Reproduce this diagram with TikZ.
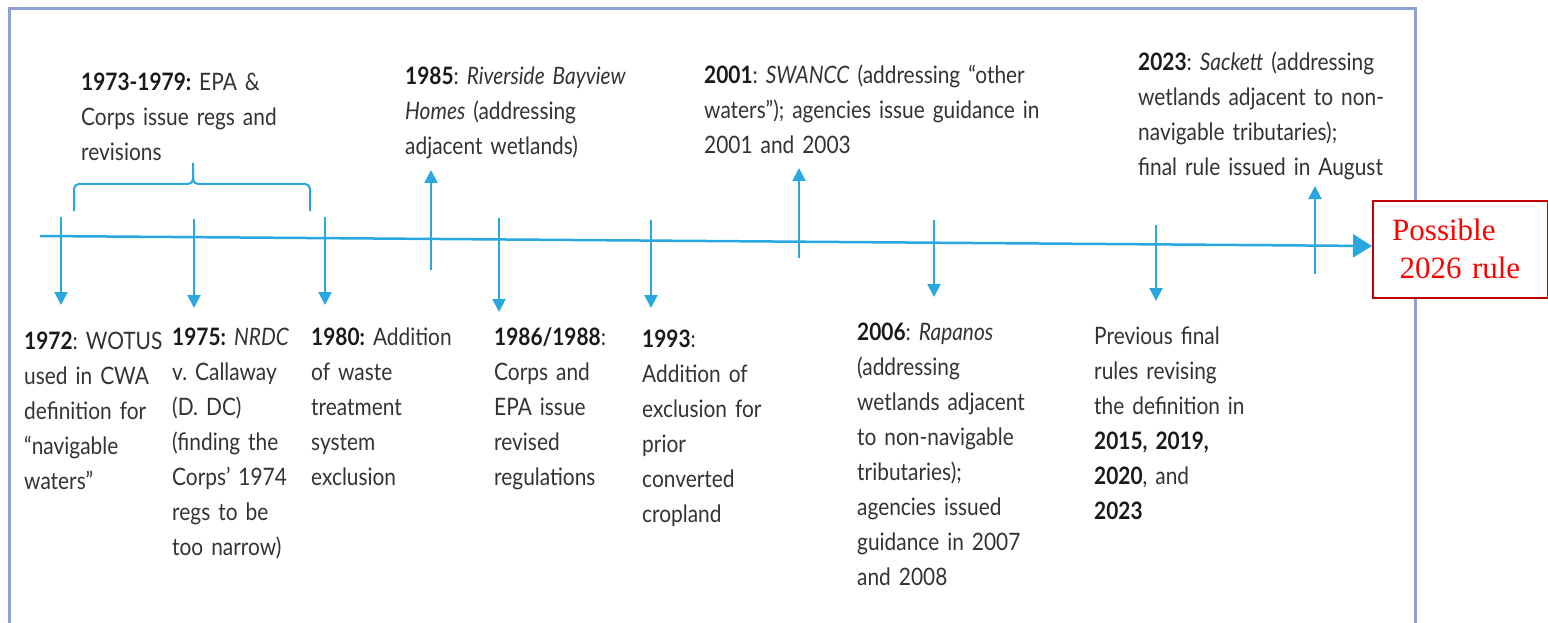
\documentclass[tikz,border=0pt]{standalone}
\usepackage{fontspec}
\setmainfont{Lato}[FakeStretch=0.87]
\newfontfamily\redserif{Liberation Serif}
\usetikzlibrary{arrows.meta}
\definecolor{tl}{HTML}{29A8E0}
\definecolor{frm}{HTML}{8E9FD3}
\definecolor{txt}{HTML}{333333}
\definecolor{yrc}{HTML}{1A1A1A}
\definecolor{rbox}{HTML}{C00000}
\definecolor{rtxt}{HTML}{FF0000}
\newcommand\yr[1]{\textbf{\color{yrc}#1}}
\frenchspacing
\begin{document}
\begin{tikzpicture}[x=1pt,y=-1pt,
  lbl/.style={anchor=base west, inner sep=0pt, text width=380pt, align=left,
              text=txt, font=\frenchspacing\fontsize{24}{35}\selectfont},
  tickarrow/.style={draw=tl, line width=2pt, -{Triangle[length=13pt,width=13pt]}},
  axisline/.style={draw=tl, line width=2.5pt, -{Triangle[length=19pt,width=23pt]}},
  bracket/.style={draw=tl, line width=2pt, rounded corners=5pt},
  framebox/.style={draw=frm, line width=3pt},
  redbox/.style={draw=rbox, line width=2pt, fill=white, minimum width=175pt,
                 minimum height=97pt, inner sep=0pt, anchor=north west},
  redtext/.style={anchor=base west, inner sep=0pt, text width=160pt, align=left,
                  text=rtxt, font=\redserif\fontsize{31}{38}\selectfont}
]
\useasboundingbox (0,0) rectangle (1548,623);
\fill[white] (0,0) rectangle (1548,623);
% frame (open at the bottom)
\draw[framebox] (9,623) -- (9,9) -- (1415,9) -- (1415,623);
% red box
\node[redbox] (r) at (1372,200) {};
\node[redtext] (rt) at (1392,240) {Possible\\\hspace*{7.5pt}2026 rule};
% axis
\coordinate (a0) at (40,236);
\draw[axisline] (a0) -- ([yshift=3.5pt]r.west);
% ticks
\foreach \x/\a/\b [count=\i] in {61/217/305, 194/219/308, 325/217/305, 431/270/170,
   499/218/312, 651/220/308, 799/258/168, 934/220/297, 1156/225/301, 1315/274/186}{
  \coordinate (ks\i) at (\x,\a);
  \coordinate (ke\i) at (\x,\b);
  \draw[tickarrow] (ks\i) -- (ke\i);
}
% bracket
\draw[bracket] (74,211) -- (74,184) -- (193,184) -- (193,163);
\draw[bracket] (193,170) -- (193,184) -- (310,184) -- (310,211);
% top labels
\node[lbl] (n7379) at (81,91) {\yr{1973-1979:} EPA \&\\Corps issue regs and\\revisions};
\node[lbl] (n85) at (405,85) {\yr{1985}: \textit{Riverside Bayview}\\\textit{Homes} (addressing\\adjacent wetlands)};
\node[lbl] (n01) at (704,84) {\yr{2001}: \textit{SWANCC} (addressing “other\\waters”); agencies issue guidance in\\2001 and 2003};
\node[lbl] (n23) at (1138,71) {\yr{2023}: \textit{Sackett} (addressing\\wetlands adjacent to non-\\navigable tributaries);\\final rule issued in August};
% bottom labels
\node[lbl] (n72) at (24,349) {\yr{1972}: WOTUS\\used in CWA\\definition for\\“navigable\\waters”};
\node[lbl] (n75) at (172,345) {\yr{1975:} \textit{NRDC}\\v. Callaway\\(D. DC)\\(finding the\\Corps’ 1974\\regs to be\\too narrow)};
\node[lbl] (n80) at (311,345) {\yr{1980:} Addition\\of waste\\treatment\\system\\exclusion};
\node[lbl] (n86) at (494,345) {\yr{1986/1988}:\\Corps and\\EPA issue\\revised\\regulations};
\node[lbl] (n93) at (642,347) {\yr{1993}:\\Addition of\\exclusion for\\prior\\converted\\cropland};
\node[lbl] (n06) at (857,340) {\yr{2006}: \textit{Rapanos}\\(addressing\\wetlands adjacent\\to non-navigable\\tributaries);\\agencies issued\\guidance in 2007\\and 2008};
\node[lbl] (nprev) at (1094,344) {Previous final\\rules revising\\the definition in\\\yr{2015, 2019,}\\\yr{2020}, and\\\yr{2023}};
\end{tikzpicture}
\end{document}
